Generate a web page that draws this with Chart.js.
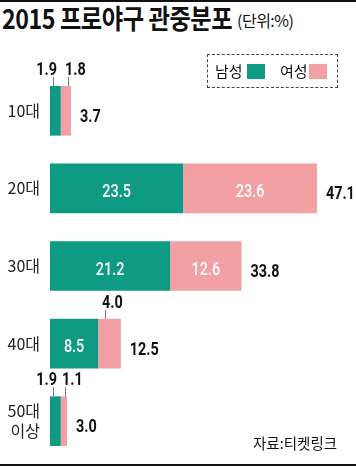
<!DOCTYPE html>
<html>
<head>
<meta charset="utf-8">
<script src="https://cdn.jsdelivr.net/npm/chart.js@4"></script>
<style>
  html, body { margin: 0; padding: 0; background: #fff; }
  body { width: 356px; height: 467px; overflow: hidden; position: relative; font-family: 'Noto Sans CJK KR', sans-serif; color: #111; }
  #wrap { position: absolute; left: 0; top: 0; width: 356px; height: 480px; }
  .rule { position: absolute; left: 0; width: 356px; height: 2px; background: #111; }
  #title { position: absolute; left: 2px; top: 0px; font-weight: bold; font-size: 27px; line-height: 36px;
           white-space: nowrap; transform: scaleX(0.86); transform-origin: left top; letter-spacing: -0.5px; }
  #unit { position: absolute; left: 237px; top: 9px; font-size: 16px; line-height: 22px; white-space: nowrap; letter-spacing: -0.5px; }
  #legend { position: absolute; left: 207px; top: 54px; width: 129px; height: 32px; border: 1px dashed #444; }
  #legend span { position: absolute; font-size: 15px; line-height: 20px; top: 6px; }
  #legend i { position: absolute; top: 9px; width: 18px; height: 15px; }
  #source { position: absolute; left: 253px; top: 432px; font-size: 14.5px; line-height: 22px; white-space: nowrap; }
</style>
</head>
<body>
<div class="rule" style="top:0"></div>
<div id="title">2015 프로야구 관중분포</div>
<div id="unit">(단위:%)</div>
<div id="wrap"><canvas id="chart" width="356" height="480"></canvas></div>
<div id="legend">
  <span style="left:7px">남성</span><i style="left:39px;background:#0f9a84"></i>
  <span style="left:72px">여성</span><i style="left:101px;background:#f2a0a4"></i>
</div>
<div id="source">자료:티켓링크</div>
<div class="rule" style="top:464px"></div>
<script>
// data
const categories = [['10대'], '20대', '30대', '40대', ['50대', '이상']];
const seriesNames = ['남성', '여성'];
const maleValues = [1.9, 23.5, 21.2, 8.5, 1.9];
const femaleValues = [1.8, 23.6, 12.6, 4.0, 1.1];
const totalValues = [3.7, 47.1, 33.8, 12.5, 3.0];

const teal = '#0f9a84';
const pink = '#f2a0a4';

// condensed-looking number text
function drawNum(ctx, txt, x, y, align, font, color) {
  ctx.save();
  ctx.font = font;
  ctx.fillStyle = color;
  ctx.textAlign = align;
  ctx.textBaseline = 'alphabetic';
  ctx.translate(x, y);
  ctx.scale(0.8, 1);
  ctx.fillText(txt, 0, 0);
  ctx.restore();
}

// value labels: inside for wide segments, above with a leader line for small ones
const labelPlugin = {
  id: 'valueLabels',
  afterDatasetsDraw(chart) {
    const ctx = chart.ctx;
    chart.data.datasets.forEach((ds, di) => {
      const meta = chart.getDatasetMeta(di);
      meta.data.forEach((bar, i) => {
        const v = ds.data[i];
        const left = bar.base;
        const right = bar.x;
        const w = right - left;
        const top = bar.y - bar.height / 2;
        const txt = v.toFixed(1);
        if (v >= 5) {
          drawNum(ctx, txt, (left + right) / 2, bar.y + 8.5, 'center', '500 18px Roboto', '#fff');
        } else {
          let lineX;
          if (di === 0) {
            lineX = Math.round(left + 3);
            drawNum(ctx, txt, lineX + 4, top - 11, 'right', 'bold 18px Roboto', '#111');
          } else {
            lineX = Math.round(left + Math.min(7, w - 2));
            drawNum(ctx, txt, lineX - 3, top - 11, 'left', 'bold 18px Roboto', '#111');
          }
          ctx.save();
          ctx.strokeStyle = '#777';
          ctx.lineWidth = 1;
          ctx.beginPath();
          ctx.moveTo(lineX + 0.5, top - 9);
          ctx.lineTo(lineX + 0.5, top);
          ctx.stroke();
          ctx.restore();
        }
      });
    });
    // totals right of each bar
    const last = chart.getDatasetMeta(chart.data.datasets.length - 1);
    last.data.forEach((bar, i) => {
      drawNum(ctx, totalValues[i].toFixed(1), bar.x + 9, bar.y + 11, 'left', 'bold 18px Roboto', '#111');
    });
  }
};

new Chart(document.getElementById('chart').getContext('2d'), {
  type: 'bar',
  data: {
    labels: categories,
    datasets: [
      { label: seriesNames[0], data: maleValues, backgroundColor: teal },
      { label: seriesNames[1], data: femaleValues, backgroundColor: pink }
    ]
  },
  options: {
    indexAxis: 'y',
    responsive: false,
    animation: false,
    categoryPercentage: 1,
    barPercentage: 0.64,
    layout: { padding: { top: 72, bottom: 8, left: 0, right: 0 } },
    plugins: { legend: { display: false }, tooltip: { enabled: false } },
    scales: {
      x: { stacked: true, display: false, min: 0, max: 54 },
      y: {
        stacked: true,
        grid: { display: false, drawTicks: false },
        border: { display: false },
        ticks: {
          color: '#222',
          padding: 10,
          font: { family: "'Noto Sans CJK KR'", size: 16, lineHeight: 1.25 }
        },
        afterFit(scale) { scale.width = 50; }
      }
    }
  },
  plugins: [labelPlugin]
});
</script>
</body>
</html>
